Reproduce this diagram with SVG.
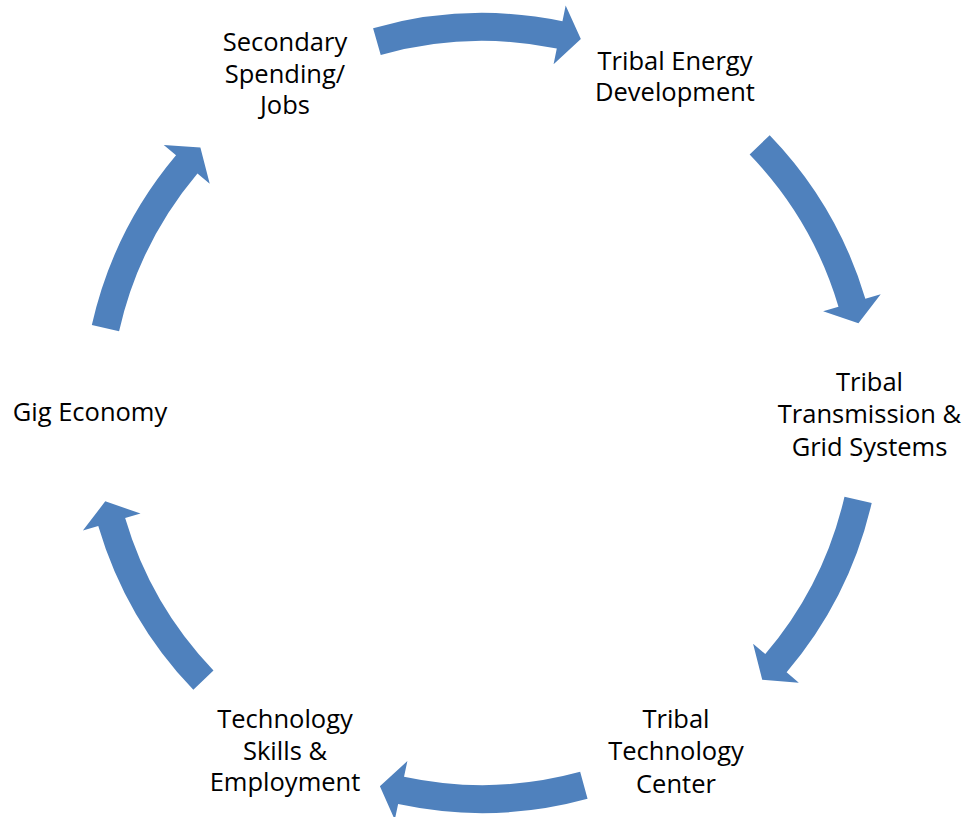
<svg xmlns="http://www.w3.org/2000/svg" xmlns:xlink="http://www.w3.org/1999/xlink" width="964" height="817" viewBox="0 0 964 817">
<style>
.lbl{font-family:"Open Sans","Liberation Sans",sans-serif;font-size:25.5px;fill:#000;text-anchor:middle}
.arr{fill:#4F81BD}
</style>
<defs>
<path id="carrow" class="arr" d="M -106.9,-385.4 A 400 400 0 0 1 82.5,-391.4 L 85.8,-407.1 L 100.8,-373.6 L 73.4,-348.3 L 76.7,-364.0 A 372 372 0 0 0 -99.4,-358.5 Z"/>
</defs>
<rect width="964" height="817" fill="#fff"/>
<g id="connectors" transform="translate(482,413)">
<use xlink:href="#carrow" href="#carrow" transform="rotate(-0.3)"/>
<use xlink:href="#carrow" href="#carrow" transform="rotate(61.5)"/>
<use xlink:href="#carrow" href="#carrow" transform="rotate(118.5)"/>
<use xlink:href="#carrow" href="#carrow" transform="rotate(180.2)"/>
<use xlink:href="#carrow" href="#carrow" transform="rotate(241.7)"/>
<use xlink:href="#carrow" href="#carrow" transform="rotate(298.2)"/>
</g>
<g id="node-secondary"><text class="lbl" x="285" y="51">Secondary</text><text class="lbl" x="285" y="82.5">Spending/</text><text class="lbl" x="285" y="114">Jobs</text></g>
<g id="node-energy"><text class="lbl" x="675" y="69.5">Tribal Energy</text><text class="lbl" x="675" y="101">Development</text></g>
<g id="node-transmission"><text class="lbl" x="869.5" y="390.5">Tribal</text><text class="lbl" x="869.5" y="423">Transmission &amp;</text><text class="lbl" x="869.5" y="455.5">Grid Systems</text></g>
<g id="node-center"><text class="lbl" x="676" y="727.5">Tribal</text><text class="lbl" x="676" y="760">Technology</text><text class="lbl" x="676" y="792.5">Center</text></g>
<g id="node-skills"><text class="lbl" x="285" y="727.5">Technology</text><text class="lbl" x="285" y="759.5">Skills &amp;</text><text class="lbl" x="285" y="791">Employment</text></g>
<g id="node-gig"><text class="lbl" x="90" y="421">Gig Economy</text></g>
</svg>
